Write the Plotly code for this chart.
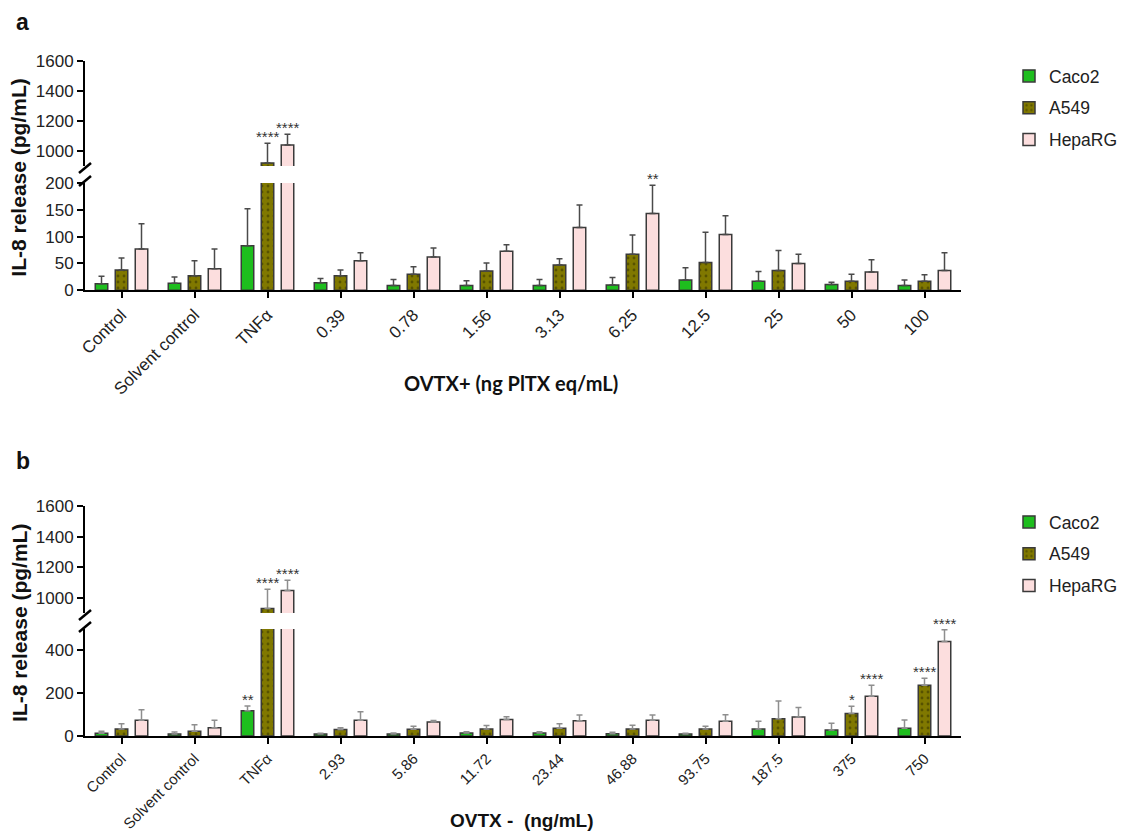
import plotly.graph_objects as go

W, H = 1125, 836

# ---------------- data ----------------
series_names = ["Caco2", "A549", "HepaRG"]

categories_a = ["Control", "Solvent control", "TNFα", "0.39", "0.78", "1.56",
                "3.13", "6.25", "12.5", "25", "50", "100"]
caco2_a = [12, 13, 83, 14, 9, 9, 9, 10, 19, 17, 11, 9]
caco2_a_err = [14, 12, 69, 8, 11, 9, 11, 14, 23, 18, 4, 10]
a549_a = [38, 27, 920, 27, 30, 36, 47, 67, 52, 37, 17, 17]
a549_a_err = [22, 28, 132, 11, 14, 15, 12, 36, 56, 37, 13, 12]
heparg_a = [77, 40, 1040, 55, 62, 73, 117, 143, 104, 50, 34, 37]
heparg_a_err = [47, 37, 72, 15, 17, 12, 42, 53, 35, 17, 23, 33]
sig_caco2_a = [""] * 12
sig_a549_a = ["", "", "****", "", "", "", "", "", "", "", "", ""]
sig_heparg_a = ["", "", "****", "", "", "", "", "**", "", "", "", ""]

categories_b = ["Control", "Solvent control", "TNFα", "2.93", "5.86", "11.72",
                "23.44", "46.88", "93.75", "187.5", "375", "750"]
caco2_b = [13, 9, 118, 9, 9, 14, 14, 11, 9, 33, 28, 36]
caco2_b_err = [9, 10, 22, 4, 5, 6, 6, 6, 4, 36, 31, 39]
a549_b = [33, 22, 929, 30, 31, 33, 36, 33, 33, 81, 105, 237]
a549_b_err = [24, 30, 127, 9, 15, 16, 21, 17, 13, 83, 34, 33]
heparg_b = [74, 38, 1047, 74, 66, 77, 71, 74, 69, 89, 186, 442]
heparg_b_err = [49, 36, 67, 39, 6, 13, 27, 24, 30, 44, 51, 55]
sig_caco2_b = ["", "", "**", "", "", "", "", "", "", "", "", ""]
sig_a549_b = ["", "", "****", "", "", "", "", "", "", "", "*", "****"]
sig_heparg_b = ["", "", "****", "", "", "", "", "", "", "", "****", "****"]

yticks_upper = [1000, 1200, 1400, 1600]
yticks_lower_a = [0, 50, 100, 150, 200]
yticks_lower_b = [0, 200, 400]

# ---------------- styling ----------------
FONT = "Liberation Sans, Arial, sans-serif"
OUTLINE = "#3a3a3a"
fills = ["#1EBE1E", "#807800", "#FCDEDE"]
patterns = [None,
            dict(shape=".", fgcolor="#2e2c00", bgcolor="#807800", size=6, solidity=0.18),
            None]


def fx(px):
    return px / W


def fy(py):
    return 1 - py / H


X0, X1 = 85, 961
panels = [
    dict(cats=categories_a,
         vals=[caco2_a, a549_a, heparg_a],
         errs=[caco2_a_err, a549_a_err, heparg_a_err],
         sigs=[sig_caco2_a, sig_a549_a, sig_heparg_a],
         lower=("x", "y"), upper=("x2", "y2"),
         lower_px=(183, 290.3), upper_px=(61, 166),
         lower_range=[0, 200], lower_ticks=yticks_lower_a,
         errcolor="#4a4a4a", legend="legend", catfont=17),
    dict(cats=categories_b,
         vals=[caco2_b, a549_b, heparg_b],
         errs=[caco2_b_err, a549_b_err, heparg_b_err],
         sigs=[sig_caco2_b, sig_a549_b, sig_heparg_b],
         lower=("x3", "y3"), upper=("x4", "y4"),
         lower_px=(629, 736), upper_px=(506, 613),
         lower_range=[0, 500], lower_ticks=yticks_lower_b,
         errcolor="#8e8e8e", legend="legend2", catfont=15),
]
UPPER_RANGE = [900, 1600]

fig = go.Figure()
annotations = []
shapes = []

for p in panels:
    n = len(p["cats"])
    for i, name in enumerate(series_names):
        marker = dict(color=fills[i], line=dict(color=OUTLINE, width=1.5))
        if patterns[i]:
            marker["pattern"] = patterns[i]
        for (xa, ya), show in [(p["lower"], True), (p["upper"], False)]:
            fig.add_trace(go.Bar(
                x=p["cats"], y=p["vals"][i], name=name,
                marker=marker,
                error_y=dict(type="data", symmetric=False,
                             array=p["errs"][i], arrayminus=[0] * n,
                             color=p["errcolor"], thickness=1.5, width=3),
                xaxis=xa, yaxis=ya, showlegend=show,
                legend=p["legend"], legendgroup=p["legend"] + name,
            ))
        # significance stars (x given as category index)
        for j, s in enumerate(p["sigs"][i]):
            if not s:
                continue
            top = p["vals"][i][j] + p["errs"][i][j]
            xa, ya = p["upper"] if top > p["lower_range"][1] else p["lower"]
            annotations.append(dict(
                x=j, y=top, xref=xa, yref=ya,
                xshift=(i - 1) * 20, yshift=-4, yanchor="bottom",
                text=s, showarrow=False,
                font=dict(family=FONT, size=15, color="#333")))

    # axes
    lx, ly = p["lower"]
    ux, uy = p["upper"]
    xk = "xaxis" + lx[1:]
    uxk = "xaxis" + ux[1:]
    lyk = "yaxis" + ly[1:]
    uyk = "yaxis" + uy[1:]
    fig.layout[xk] = dict(
        domain=[fx(X0), fx(X1)], anchor=ly, type="category",
        categoryorder="array", categoryarray=p["cats"],
        range=[-0.5, n - 0.5], showline=True, linecolor="black", linewidth=2,
        ticks="outside", ticklen=6, tickwidth=2, tickcolor="black",
        tickangle=-45, tickfont=dict(family=FONT, size=p["catfont"], color="#222"),
        showgrid=False, zeroline=False)
    fig.layout[uxk] = dict(
        domain=[fx(X0), fx(X1)], anchor=uy, type="category",
        categoryorder="array", categoryarray=p["cats"],
        range=[-0.5, n - 0.5], visible=False, matches=lx)
    yax_common = dict(showline=True, linecolor="black", linewidth=2,
                      ticks="outside", ticklen=6, tickwidth=2, tickcolor="black",
                      tickfont=dict(family=FONT, size=17, color="#222"),
                      showgrid=False, zeroline=False)
    fig.layout[lyk] = dict(domain=[fy(p["lower_px"][1]), fy(p["lower_px"][0])],
                           anchor=lx, range=p["lower_range"],
                           tickvals=p["lower_ticks"], **yax_common)
    fig.layout[uyk] = dict(domain=[fy(p["upper_px"][1]), fy(p["upper_px"][0])],
                           anchor=ux, range=UPPER_RANGE,
                           tickvals=yticks_upper, **yax_common)

    # axis break marks
    for yb in (p["upper_px"][1] + 2, p["lower_px"][0] - 2):
        shapes.append(dict(type="line", xref="paper", yref="paper",
                           x0=fx(X0 - 6), y0=fy(yb + 5), x1=fx(X0 + 6), y1=fy(yb - 5),
                           line=dict(color="black", width=2.5)))

    # y title
    yc = (p["upper_px"][0] + p["lower_px"][1]) / 2 + 2
    annotations.append(dict(x=fx(19), y=fy(yc), xref="paper", yref="paper",
                            text="<b>IL-8 release (pg/mL)</b>", textangle=-90,
                            showarrow=False, xanchor="center", yanchor="middle",
                            font=dict(family=FONT, size=21, color="#111")))

# x titles
annotations.append(dict(x=fx(511), y=fy(383), xref="paper", yref="paper",
                        text="<b>OVTX+ (ng PlTX eq/mL)</b>", showarrow=False,
                        xanchor="center", yanchor="middle",
                        font=dict(family="Lato, Open Sans, sans-serif", size=20, color="#111")))
annotations.append(dict(x=fx(522), y=fy(820), xref="paper", yref="paper",
                        text="<b>OVTX -&nbsp; (ng/mL)</b>", showarrow=False,
                        xanchor="center", yanchor="middle",
                        font=dict(family=FONT, size=19, color="#111")))
# panel letters
annotations.append(dict(x=fx(22), y=fy(22), xref="paper", yref="paper", text="<b>a</b>",
                        showarrow=False, xanchor="center", yanchor="middle",
                        font=dict(family=FONT, size=23, color="#111")))
annotations.append(dict(x=fx(23), y=fy(461), xref="paper", yref="paper", text="<b>b</b>",
                        showarrow=False, xanchor="center", yanchor="middle",
                        font=dict(family=FONT, size=23, color="#111")))

legend_common = dict(xanchor="left", yanchor="top", bgcolor="rgba(0,0,0,0)",
                     font=dict(family=FONT, size=17.5, color="#222"),
                     tracegroupgap=6, borderwidth=0)
fig.update_layout(
    width=W, height=H, autosize=False,
    margin=dict(l=0, r=0, t=0, b=0, autoexpand=False),
    paper_bgcolor="white", plot_bgcolor="white",
    barmode="group", bargap=0.178, bargroupgap=0.375,
    legend=dict(x=fx(1009), y=fy(58), **legend_common),
    legend2=dict(x=fx(1009), y=fy(504), **legend_common),
    annotations=annotations, shapes=shapes,
)

fig.write_html("out.html",
               config={"displayModeBar": False},
               post_script="document.body.style.margin='0px';"
                           "document.body.style.overflow='hidden';")
